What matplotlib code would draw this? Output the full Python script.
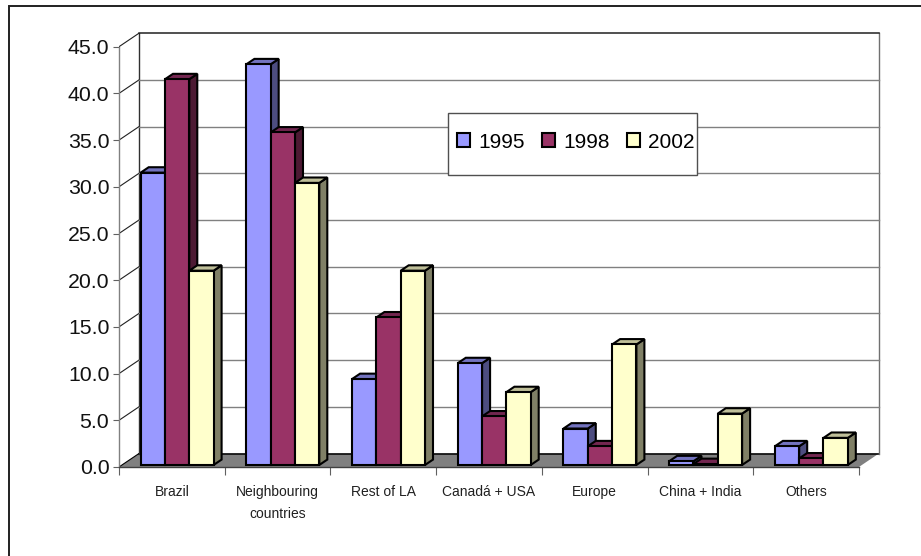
import matplotlib
matplotlib.use('Agg')
import matplotlib.pyplot as plt
from matplotlib.patches import Patch, Polygon, Rectangle

plt.rcParams['font.family'] = ['Liberation Sans', 'DejaVu Sans']

categories = ['Brazil', 'Neighbouring\ncountries', 'Rest of LA', 'Canadá + USA',
              'Europe', 'China + India', 'Others']
years = ['1995', '1998', '2002']
values_1995 = [31.3, 42.9, 9.2, 10.9, 3.9, 0.4, 2.0]
values_1998 = [41.3, 35.6, 15.8, 5.2, 2.0, 0.1, 0.7]
values_2002 = [20.8, 30.2, 20.8, 7.8, 12.9, 5.5, 2.9]
y_ticks = [0, 5, 10, 15, 20, 25, 30, 35, 40, 45]

# front, side and top shades for each series
colors = {
    '1995': ('#9999FF', '#4D4D80', '#7373BF'),
    '1998': ('#993366', '#4D1A33', '#732650'),
    '2002': ('#FFFFCC', '#808066', '#BFBF99'),
}

W, H = 921, 556
LEFT, RIGHT = 119, 879
BOTTOM, TOP = 467, 33
X_UNIT = 105.7
Y_UNIT = 9.34

# oblique offset of the back wall, in data units
WALL_DX = 20 / X_UNIT
WALL_DY = 13.5 / Y_UNIT
BAR_W = 0.23
BAR_START = 0.205
BAR_NEAR = 0.15
BAR_FAR = 0.55


def draw_bar(ax, x, v, series):
    front, side, top = colors[series]
    x0 = x
    x1 = x + BAR_W
    ddx = (BAR_FAR - BAR_NEAR) * WALL_DX
    ddy = (BAR_FAR - BAR_NEAR) * WALL_DY
    y0 = BAR_NEAR * WALL_DY
    y1 = y0 + v
    style = dict(edgecolor='black', linewidth=1.5, joinstyle='miter', clip_on=False)
    ax.add_patch(Polygon([(x1, y0), (x1 + ddx, y0 + ddy), (x1 + ddx, y1 + ddy), (x1, y1)],
                         facecolor=side, zorder=5, **style))
    ax.add_patch(Polygon([(x0, y1), (x1, y1), (x1 + ddx, y1 + ddy), (x0 + ddx, y1 + ddy)],
                         facecolor=top, zorder=5, **style))
    ax.add_patch(Rectangle((x0, y0), BAR_W, v, facecolor=front, zorder=5, **style))


def main():
    fig = plt.figure(figsize=(W / 100, H / 100), dpi=100)
    fig.patch.set_facecolor('white')

    # outer chart frame, runs off the right and bottom edges
    fig.add_artist(Rectangle((8.5 / W, 1 - 560 / H), 920 / W, 554 / H, fill=False,
                             edgecolor='#202020', linewidth=1.4,
                             transform=fig.transFigure))

    ax = fig.add_axes([LEFT / W, 1 - BOTTOM / H, (RIGHT - LEFT) / W, (BOTTOM - TOP) / H])
    ax.set_xlim(0, (RIGHT - LEFT) / X_UNIT)
    ax.set_ylim(0, (BOTTOM - TOP) / Y_UNIT)
    ax.patch.set_visible(False)
    for name in ('top', 'right'):
        ax.spines[name].set_visible(False)
    ax.spines['left'].set_bounds(0, 45)
    ax.spines['bottom'].set_bounds(0, 7)
    ax.spines['left'].set_color('#808080')
    ax.spines['bottom'].set_color('#404040')
    ax.spines['left'].set_linewidth(1.0)
    ax.spines['bottom'].set_linewidth(1.0)

    ax.set_yticks(y_ticks)
    ax.set_yticklabels([f'{t:.1f}' for t in y_ticks], fontsize=15.3, color='#111111')
    ax.tick_params(axis='y', length=4.5, width=0.8, color='#606060', pad=2.5)
    ax.set_xticks(range(8))
    ax.set_xticklabels([])
    ax.tick_params(axis='x', which='major', length=6, width=0.8, color='#606060')
    ax.set_xticks([i + 0.5 for i in range(7)], minor=True)
    ax.set_xticklabels(categories, minor=True, fontsize=10, color='#202020',
                       linespacing=1.65)
    ax.tick_params(axis='x', which='minor', length=0, pad=13.3)

    x_end = 7
    # floor
    ax.add_patch(Polygon([(0, 0), (x_end, 0), (x_end + WALL_DX, WALL_DY), (WALL_DX, WALL_DY)],
                         facecolor='#808080', edgecolor='none', zorder=1, clip_on=False))
    ax.plot([WALL_DX, x_end + WALL_DX], [WALL_DY, WALL_DY], color='black', lw=1.1, zorder=2,
            clip_on=False)
    ax.plot([0, WALL_DX], [0, WALL_DY], color='black', lw=0.8, zorder=2)

    # back wall and side wall
    ax.plot([WALL_DX, WALL_DX], [WALL_DY, 45 + WALL_DY], color='#303030', lw=1.0, zorder=2)
    ax.plot([x_end + WALL_DX] * 2, [WALL_DY, 45 + WALL_DY], color='#707070', lw=1.0, zorder=2,
            clip_on=False)
    ax.plot([WALL_DX, x_end + WALL_DX], [45 + WALL_DY] * 2, color='#202020', lw=1.1, zorder=2,
            clip_on=False)
    for t in y_ticks[1:]:
        ax.plot([0, WALL_DX], [t, t + WALL_DY], color='#202020', lw=0.8, zorder=2)
        if t < 45:
            ax.plot([WALL_DX, x_end + WALL_DX], [t + WALL_DY] * 2, color='#808080',
                    lw=1.0, zorder=2, clip_on=False)

    for i in range(len(categories)):
        for j, (year, vals) in enumerate(zip(years, (values_1995, values_1998, values_2002))):
            draw_bar(ax, i + BAR_START + j * BAR_W, vals[i], year)

    # legend box sits behind a frameless legend, text runs close to its right edge
    ax.add_patch(Rectangle((448 / W, 1 - 175 / H), 249 / W, 62 / H, transform=fig.transFigure,
                           facecolor='white', edgecolor='#505050', linewidth=1.0,
                           zorder=9, clip_on=False))
    handles = [Patch(facecolor=colors[y][0], edgecolor='black', linewidth=1.5, label=y)
               for y in years]
    leg = ax.legend(handles=handles, ncol=3, loc='center',
                    bbox_to_anchor=(576 / W, 1 - 142 / H), bbox_transform=fig.transFigure,
                    fontsize=15, frameon=False,
                    handlelength=0.62, handleheight=0.62, handletextpad=0.4,
                    columnspacing=0.82, borderpad=0, borderaxespad=0)
    leg.set_zorder(10)

    plt.savefig('out.png', dpi=100)
    plt.close()


if __name__ == "__main__":
    main()
